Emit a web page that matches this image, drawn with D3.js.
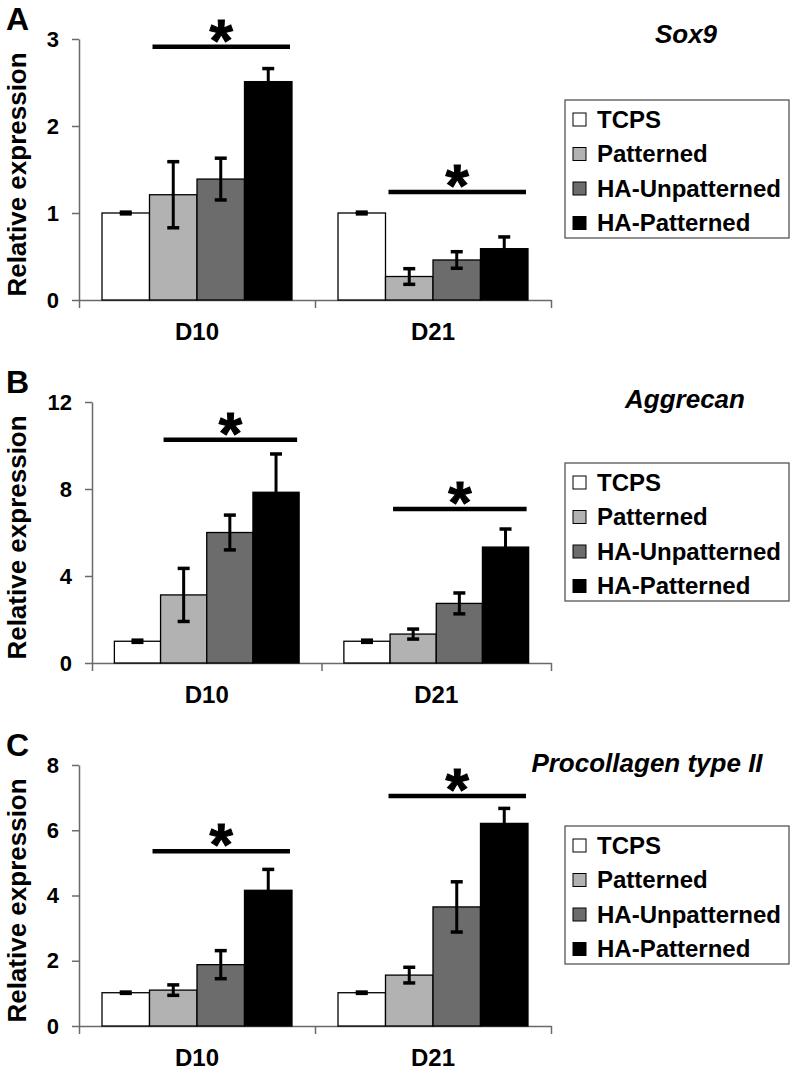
<!DOCTYPE html>
<html>
<head>
<meta charset="utf-8">
<script src="https://cdn.jsdelivr.net/npm/d3@7"></script>
<style>
  html, body { margin: 0; padding: 0; background: #fff; }
  svg { display: block; }
  text { font-family: "Liberation Sans", Arial, sans-serif; font-weight: bold; fill: #000; }
</style>
</head>
<body>
<svg id="chart" width="792" height="1073"></svg>
<script>
// ---------- data ----------
const categories = ["D10", "D21"];
const seriesNames = ["TCPS", "Patterned", "HA-Unpatterned", "HA-Patterned"];
const seriesColors = ["#ffffff", "#b2b2b2", "#6c6c6c", "#000000"];

// Sox9 (panel A): values [category][series]
const sox9Values = [[1.00, 1.21, 1.39, 2.51], [1.00, 0.27, 0.46, 0.59]];
const sox9Errors = [[0.01, 0.38, 0.24, 0.15], [0.01, 0.09, 0.095, 0.135]];
const sox9Ticks = [0, 1, 2, 3];
const sox9Sig = [2.91, 1.24];

// Aggrecan (panel B)
const aggrecanValues = [[1.00, 3.13, 6.00, 7.85], [1.00, 1.33, 2.74, 5.33]];
const aggrecanErrors = [[0.05, 1.22, 0.80, 1.76], [0.05, 0.23, 0.48, 0.83]];
const aggrecanTicks = [0, 4, 8, 12];
const aggrecanSig = [10.27, 7.08];

// Procollagen type II (panel C)
const procolValues = [[1.02, 1.10, 1.88, 4.16], [1.02, 1.56, 3.65, 6.21]];
const procolErrors = [[0.02, 0.16, 0.43, 0.64], [0.02, 0.24, 0.77, 0.46]];
const procolTicks = [0, 2, 4, 6, 8];
const procolSig = [5.36, 7.05];

const panels = [
  { letter: "A", title: "Sox9", values: sox9Values, errors: sox9Errors, ticks: sox9Ticks, sig: sox9Sig,
    x0: 79, x1: 551, yBase: 300, yTop: 39, titleX: 686, titleY: 43, legendY: 100 },
  { letter: "B", title: "Aggrecan", values: aggrecanValues, errors: aggrecanErrors, ticks: aggrecanTicks, sig: aggrecanSig,
    x0: 92, x1: 551, yBase: 663, yTop: 402, titleX: 685, titleY: 408, legendY: 463 },
  { letter: "C", title: "Procollagen type II", values: procolValues, errors: procolErrors, ticks: procolTicks, sig: procolSig,
    x0: 79, x1: 551, yBase: 1026, yTop: 765, titleX: 647, titleY: 772, legendY: 826 }
];

const svg = d3.select("#chart");
const axisColor = "#6a6a6a";

panels.forEach(p => {
  const g = svg.append("g");
  const yMax = p.ticks[p.ticks.length - 1];
  const y = d3.scaleLinear().domain([0, yMax]).range([p.yBase, p.yTop]);
  const x = d3.scaleBand().domain(categories).range([p.x0, p.x1]).paddingInner(0.195).paddingOuter(0.0975);
  const xs = d3.scaleBand().domain(seriesNames).range([0, x.bandwidth()]);
  const color = d3.scaleOrdinal().domain(seriesNames).range(seriesColors);
  const xb = d3.scaleLinear().domain([0, categories.length]).range([p.x0, p.x1]);

  // y axis
  const ya = g.append("g").attr("transform", `translate(${p.x0},0)`)
    .call(d3.axisLeft(y).tickValues(p.ticks).tickFormat(d3.format("d")).tickSize(7).tickSizeOuter(0).tickPadding(13));
  ya.select(".domain").attr("stroke", axisColor).attr("stroke-width", 1.5);
  ya.selectAll(".tick line").attr("stroke", axisColor).attr("stroke-width", 1.5);
  ya.selectAll(".tick text").style("font-size", "22px").style("font-weight", "bold")
    .style("font-family", "'Liberation Sans', Arial, sans-serif").attr("fill", "#000");

  // x axis (boundary ticks)
  const xa = g.append("g").attr("transform", `translate(0,${p.yBase})`)
    .call(d3.axisBottom(xb).tickValues(d3.range(categories.length + 1)).tickFormat("").tickSize(8).tickSizeOuter(0));
  xa.select(".domain").attr("stroke", axisColor).attr("stroke-width", 1.5);
  xa.selectAll(".tick line").attr("stroke", axisColor).attr("stroke-width", 1.5);

  // category labels
  const xl = g.append("g").attr("transform", `translate(0,${p.yBase})`)
    .call(d3.axisBottom(x).tickSize(0).tickPadding(23));
  xl.select(".domain").remove();
  xl.selectAll(".tick text").style("font-size", "24px").style("font-weight", "bold")
    .style("font-family", "'Liberation Sans', Arial, sans-serif").attr("fill", "#000");

  // bars
  categories.forEach((c, ci) => {
    const cg = g.append("g").attr("transform", `translate(${x(c)},0)`);
    seriesNames.forEach((s, si) => {
      const v = p.values[ci][si];
      cg.append("rect")
        .attr("x", xs(s)).attr("y", y(v))
        .attr("width", xs.bandwidth()).attr("height", y(0) - y(v))
        .attr("fill", color(s)).attr("stroke", "#000").attr("stroke-width", 1.3);
    });
    // error bars
    seriesNames.forEach((s, si) => {
      const v = p.values[ci][si], e = p.errors[ci][si];
      const cx = xs(s) + xs.bandwidth() / 2;
      const capW = 6;
      cg.append("line").attr("x1", cx).attr("x2", cx).attr("y1", y(v - e)).attr("y2", y(v + e))
        .attr("stroke", "#000").attr("stroke-width", 3);
      [v - e, v + e].forEach(t => {
        cg.append("line").attr("x1", cx - capW).attr("x2", cx + capW).attr("y1", y(t)).attr("y2", y(t))
          .attr("stroke", "#000").attr("stroke-width", 3.5);
      });
    });
    // significance line + asterisk
    const sx1 = xs("Patterned") + 3, sx2 = xs("HA-Patterned") + xs.bandwidth() - 2;
    const sy = y(p.sig[ci]);
    cg.append("line").attr("x1", sx1).attr("x2", sx2).attr("y1", sy).attr("y2", sy)
      .attr("stroke", "#000").attr("stroke-width", 4.5);
    cg.append("text").attr("x", (sx1 + sx2) / 2).attr("y", sy + 14)
      .attr("text-anchor", "middle").style("font-size", "60px")
      .attr("stroke", "#000").attr("stroke-width", 1).text("*");
  });

  // panel letter
  g.append("text").attr("x", 6).attr("y", p.yTop - 9).style("font-size", "32px").text(p.letter);

  // y label
  g.append("text")
    .attr("transform", `translate(26,${(p.yBase + p.yTop) / 2 + 5}) rotate(-90)`)
    .attr("text-anchor", "middle").style("font-size", "26px").text("Relative expression");

  // title
  g.append("text").attr("x", p.titleX).attr("y", p.titleY).attr("text-anchor", "middle")
    .style("font-size", "26px").style("font-style", "italic").text(p.title);

  // legend
  const lg = g.append("g").attr("transform", `translate(565,${p.legendY})`);
  lg.append("rect").attr("x", 0).attr("y", 0).attr("width", 224).attr("height", 138)
    .attr("fill", "#fff").attr("stroke", "#555").attr("stroke-width", 1.3);
  seriesNames.forEach((s, i) => {
    const cy = 19 + i * 34.5;
    lg.append("rect").attr("x", 8).attr("y", cy - 6).attr("width", 13).attr("height", 13)
      .attr("fill", color(s)).attr("stroke", "#000").attr("stroke-width", 1);
    lg.append("text").attr("x", 32).attr("y", cy + 8.5).style("font-size", "24px").text(s);
  });
});
</script>
</body>
</html>
